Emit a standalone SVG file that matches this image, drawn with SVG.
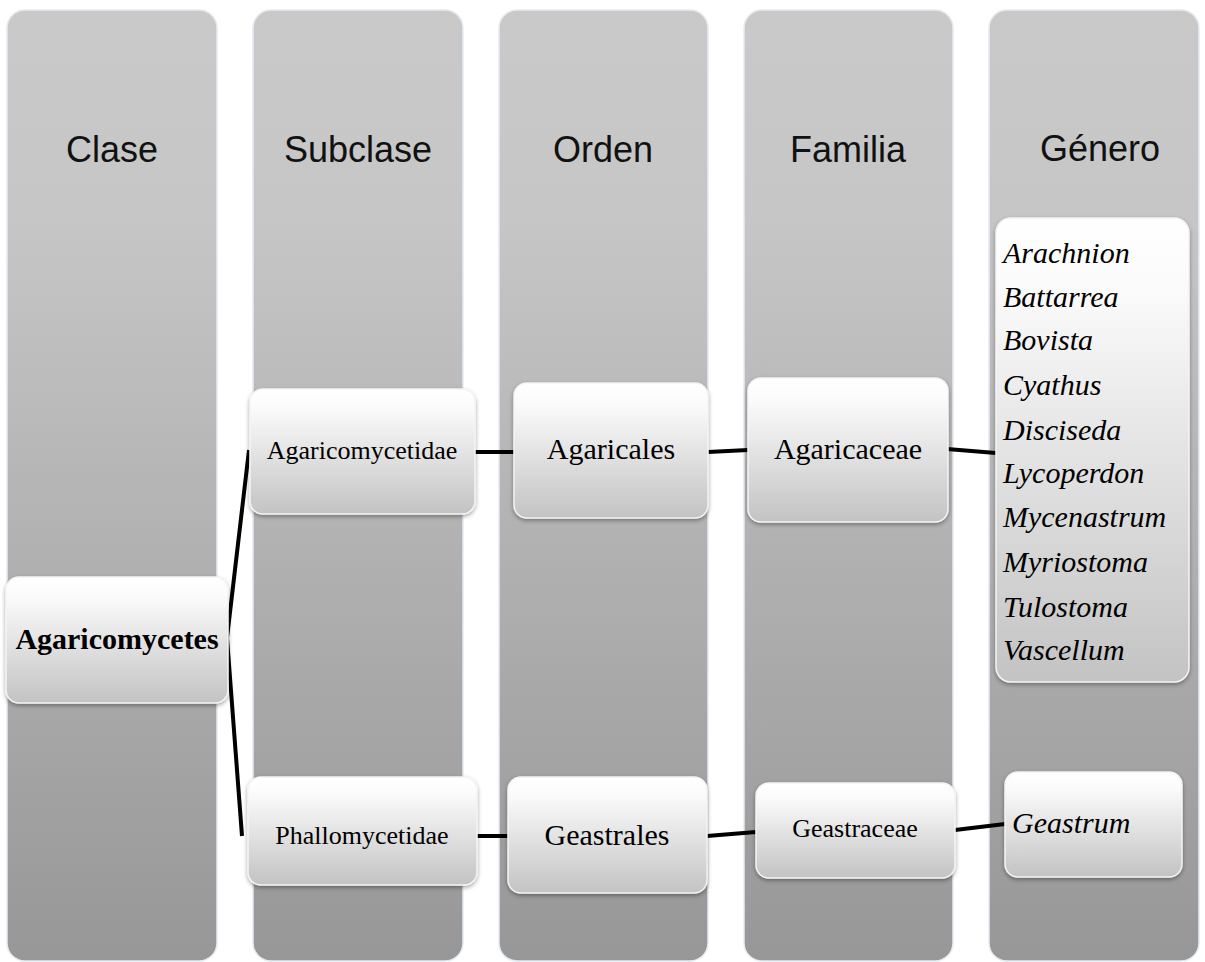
<svg xmlns="http://www.w3.org/2000/svg" width="1205" height="962" viewBox="0 0 1205 962">
<defs>
<linearGradient id="colG" x1="0" y1="0" x2="0" y2="1">
<stop offset="0" stop-color="#c9c9c9"/>
<stop offset="0.22" stop-color="#c6c6c6"/>
<stop offset="1" stop-color="#979797"/>
</linearGradient>
<linearGradient id="nodeG" x1="0" y1="0" x2="0" y2="1">
<stop offset="0" stop-color="#ffffff"/>
<stop offset="0.15" stop-color="#fbfbfb"/>
<stop offset="1" stop-color="#c3c3c3"/>
</linearGradient>
<filter id="sh" x="-10%" y="-10%" width="120%" height="130%">
<feDropShadow dx="0" dy="2" stdDeviation="2" flood-color="#000" flood-opacity="0.35"/>
</filter>
</defs>
<style>
.col{fill:url(#colG);stroke:#e4ecf2;stroke-width:1.5}
.node{fill:url(#nodeG);stroke:#f4f4f4;stroke-width:1.5;filter:url(#sh)}
.hdr{font-family:"Liberation Sans",Arial,sans-serif;font-size:36px;fill:#111;text-anchor:middle}
.t{font-family:"Liberation Serif","Times New Roman",serif;fill:#000;text-anchor:middle}
.it{font-family:"Liberation Serif","Times New Roman",serif;font-style:italic;font-size:30px;fill:#000}
.con{stroke:#000;stroke-width:4;fill:none;stroke-linejoin:miter}
</style>
<rect width="1205" height="962" fill="#ffffff"/>
<g id="columns">
<g id="col-clase"><rect class="col" x="7" y="10" width="210" height="951" rx="18"/><text class="hdr" x="112" y="162">Clase</text></g>
<g id="col-subclase"><rect class="col" x="253" y="10" width="210" height="951" rx="18"/><text class="hdr" x="358" y="162">Subclase</text></g>
<g id="col-orden"><rect class="col" x="499" y="10" width="209" height="951" rx="18"/><text class="hdr" x="603" y="162">Orden</text></g>
<g id="col-familia"><rect class="col" x="744" y="10" width="209" height="951" rx="18"/><text class="hdr" x="848" y="162">Familia</text></g>
<g id="col-genero"><rect class="col" x="989" y="10" width="210" height="951" rx="18"/><text class="hdr" x="1100" y="161">Género</text></g>
</g>
<g id="connectors">
<path class="con" d="M249,450 L227,638 L242,836"/>
<path class="con" d="M475,452 L514,452"/>
<path class="con" d="M708,452 L748,450"/>
<path class="con" d="M947,449 L996,453"/>
<path class="con" d="M477,836 L508,836"/>
<path class="con" d="M707,836 L756,832"/>
<path class="con" d="M955,830 L1005,824"/>
</g>
<g id="n-agaricomycetes"><rect class="node" x="6" y="577" width="222" height="126" rx="13"/><text class="t" x="117" y="649" font-size="30" font-weight="bold">Agaricomycetes</text></g>
<g id="n-agaricomycetidae"><rect class="node" x="250" y="389" width="225" height="125" rx="13"/><text class="t" x="362" y="459" font-size="26">Agaricomycetidae</text></g>
<g id="n-agaricales"><rect class="node" x="514" y="383" width="194" height="135" rx="13"/><text class="t" x="611" y="459" font-size="30">Agaricales</text></g>
<g id="n-agaricaceae"><rect class="node" x="748" y="378" width="200" height="144" rx="13"/><text class="t" x="848" y="459" font-size="30">Agaricaceae</text></g>
<g id="n-generos"><rect class="node" x="996" y="218" width="193" height="464" rx="15"/>
<text class="it" x="1003" y="263">Arachnion</text>
<text class="it" x="1003" y="307">Battarrea</text>
<text class="it" x="1003" y="350">Bovista</text>
<text class="it" x="1003" y="395">Cyathus</text>
<text class="it" x="1003" y="440">Disciseda</text>
<text class="it" x="1003" y="483">Lycoperdon</text>
<text class="it" x="1003" y="527">Mycenastrum</text>
<text class="it" x="1003" y="572">Myriostoma</text>
<text class="it" x="1003" y="617">Tulostoma</text>
<text class="it" x="1003" y="660">Vascellum</text>
</g>
<g id="n-phallomycetidae"><rect class="node" x="248" y="777" width="229" height="108" rx="13"/><text class="t" x="362" y="844" font-size="26">Phallomycetidae</text></g>
<g id="n-geastrales"><rect class="node" x="508" y="777" width="199" height="116" rx="13"/><text class="t" x="607" y="845" font-size="30">Geastrales</text></g>
<g id="n-geastraceae"><rect class="node" x="756" y="783" width="199" height="95" rx="13"/><text class="t" x="855" y="837" font-size="26">Geastraceae</text></g>
<g id="n-geastrum"><rect class="node" x="1005" y="772" width="177" height="105" rx="13"/><text class="it" x="1012" y="833">Geastrum</text></g>
</svg>
